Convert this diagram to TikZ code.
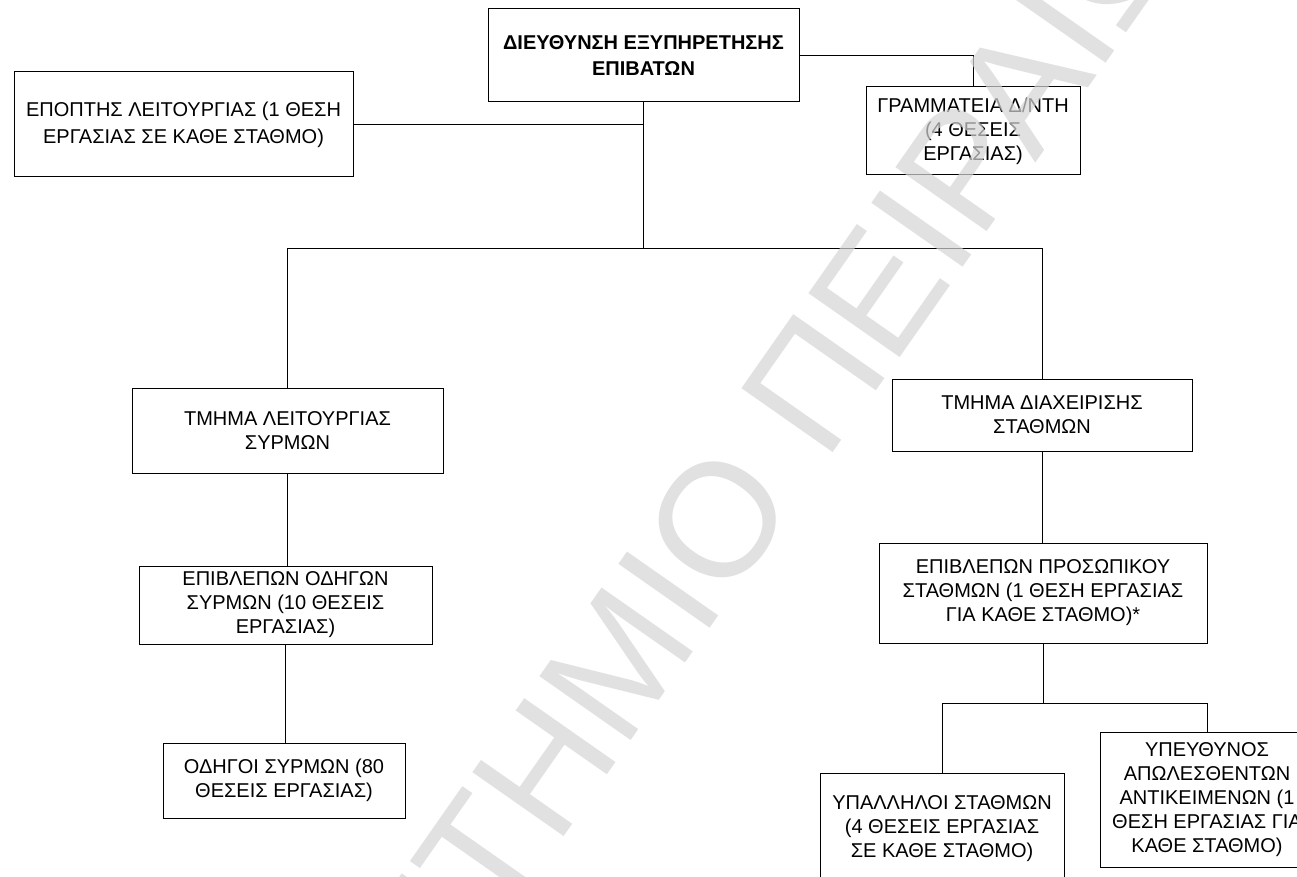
\documentclass[tikz,border=0pt]{standalone}
\usepackage{fontspec}
\setmainfont{Liberation Sans}
\usepackage{tikz}

\tikzset{
  unit/.style={draw, rectangle, line width=1pt, align=center, inner sep=0pt,
    font=\fontsize{20}{24}\selectfont},
  link/.style={line width=1pt},
  stamp/.style={text=black!17, text opacity=0.7, inner sep=0pt, font=\fontsize{162}{162}\selectfont},
}

\begin{document}
\begin{tikzpicture}[x=1pt, y=-1pt]
            \useasboundingbox (0,0) rectangle (1297,877);
            \clip (0,0) rectangle (1297,877);

            \node[unit, minimum width=311pt, minimum height=93pt, font=\fontsize{20}{26}\selectfont\bfseries]
                (dir) at (643.5,55.5) {ΔΙΕΥΘΥΝΣΗ ΕΞΥΠΗΡΕΤΗΣΗΣ\\ΕΠΙΒΑΤΩΝ};
            \node[unit, minimum width=339pt, minimum height=105pt, font=\fontsize{20}{27}\selectfont]
                (epopt) at (183.5,124.5) {ΕΠΟΠΤΗΣ ΛΕΙΤΟΥΡΓΙΑΣ (1 ΘΕΣΗ\\ΕΡΓΑΣΙΑΣ ΣΕ ΚΑΘΕ ΣΤΑΘΜΟ)};
            \node[unit, minimum width=214pt, minimum height=88pt]
                (gram) at (973,131) {ΓΡΑΜΜΑΤΕΙΑ Δ/ΝΤΗ\\(4 ΘΕΣΕΙΣ\\ΕΡΓΑΣΙΑΣ)};

            \node[unit, minimum width=311pt, minimum height=85pt]
                (trains) at (287.5,430.5) {ΤΜΗΜΑ ΛΕΙΤΟΥΡΓΙΑΣ\\ΣΥΡΜΩΝ};
            \node[unit, minimum width=293pt, minimum height=78pt]
                (drvsup) at (285.5,605) {ΕΠΙΒΛΕΠΩΝ ΟΔΗΓΩΝ\\ΣΥΡΜΩΝ (10 ΘΕΣΕΙΣ\\ΕΡΓΑΣΙΑΣ)};
            \node[unit, minimum width=242pt, minimum height=75pt]
                (drivers) at (284,780.5) {ΟΔΗΓΟΙ ΣΥΡΜΩΝ (80\\ΘΕΣΕΙΣ ΕΡΓΑΣΙΑΣ)};

            \node[unit, minimum width=300pt, minimum height=72pt]
                (stations) at (1042,415) {ΤΜΗΜΑ ΔΙΑΧΕΙΡΙΣΗΣ\\ΣΤΑΘΜΩΝ};
            \node[unit, minimum width=328pt, minimum height=100pt]
                (stsup) at (1043,593) {ΕΠΙΒΛΕΠΩΝ ΠΡΟΣΩΠΙΚΟΥ\\ΣΤΑΘΜΩΝ (1 ΘΕΣΗ ΕΡΓΑΣΙΑΣ\\ΓΙΑ ΚΑΘΕ ΣΤΑΘΜΟ)*};
            \node[unit, minimum width=244pt, minimum height=112pt]
                (staff) at (942,829) {ΥΠΑΛΛΗΛΟΙ ΣΤΑΘΜΩΝ\\(4 ΘΕΣΕΙΣ ΕΡΓΑΣΙΑΣ\\ΣΕ ΚΑΘΕ ΣΤΑΘΜΟ)};
            \node[unit, minimum width=214pt, minimum height=135pt]
                (lost) at (1207,799.5) {ΥΠΕΥΘΥΝΟΣ\\ΑΠΩΛΕΣΘΕΝΤΩΝ\\ΑΝΤΙΚΕΙΜΕΝΩΝ (1\\ΘΕΣΗ ΕΡΓΑΣΙΑΣ ΓΙΑ\\ΚΑΘΕ ΣΤΑΘΜΟ)};

            \coordinate (hub) at (643.5,248);
            \coordinate (split) at (1043,703);

            \draw[link] (dir.south) -- (hub); % dir-hub
            \draw[link] (epopt.east) -- (epopt.east -| dir.south); % epopt-dir
            \draw[link] (dir.east) -| (gram.north); % dir-gram
            \draw[link] (hub) -| (trains.north); % hub-trains
            \draw[link] (hub) -| (stations.north); % hub-stations
            \draw[link] (trains.south) -- (trains.south |- drvsup.north); % trains-drvsup
            \draw[link] (drvsup.south) -- (drvsup.south |- drivers.north); % drvsup-drivers
            \draw[link] (stations.south) -- (stations.south |- stsup.north); % stations-stsup
            \draw[link] (stsup.south) -- (split); % stsup-split
            \draw[link] (split) -| (staff.north); % split-staff
            \draw[link] (split) -| (lost.north); % split-lost

            % watermark
            \node[stamp, rotate=55, anchor=base west] (mark) at (825,464)
                {\llap{ΠΑΝΕΠΙΣΤΗΜΙΟ\ }ΠΕΙΡΑΙΩΣ};
        \end{tikzpicture}
\end{document}
